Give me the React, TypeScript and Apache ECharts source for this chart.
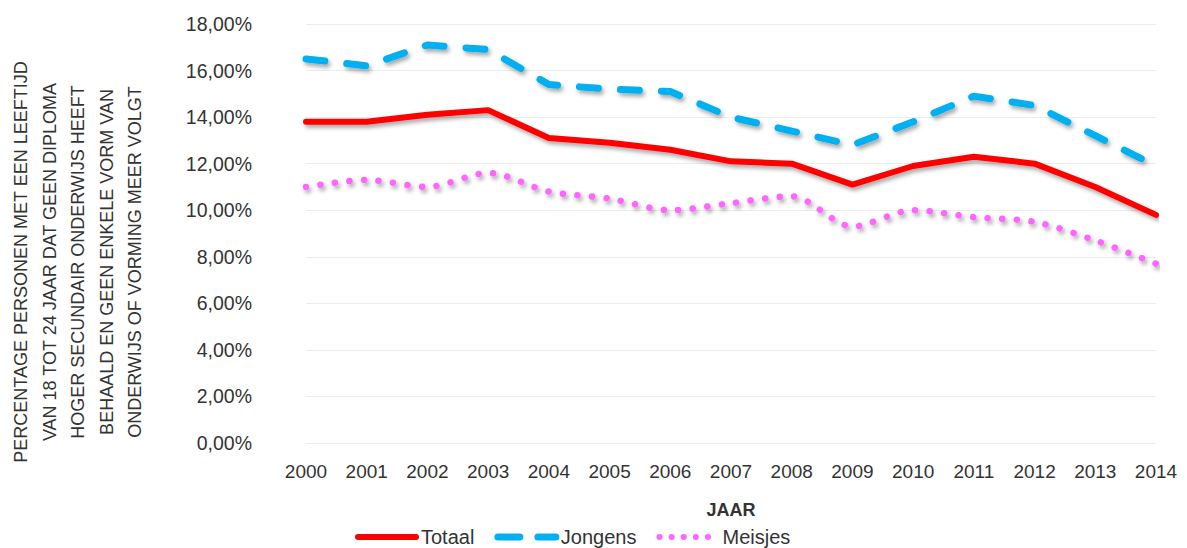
import React, { useEffect, useRef } from "react";
import * as echarts from "echarts";

const years = ["2000","2001","2002","2003","2004","2005","2006","2007","2008","2009","2010","2011","2012","2013","2014"];
const totaal = [13.8, 13.8, 14.1, 14.3, 13.1, 12.9, 12.6, 12.1, 12.0, 11.1, 11.9, 12.3, 12.0, 11.0, 9.8];
const jongens = [16.5, 16.2, 17.1, 16.9, 15.4, 15.2, 15.1, 14.0, 13.4, 12.8, 13.8, 14.9, 14.5, 13.2, 11.9];
const meisjes = [11.0, 11.3, 11.0, 11.6, 10.8, 10.5, 10.0, 10.3, 10.6, 9.3, 10.0, 9.7, 9.5, 8.7, 7.7];
const yTitleLines = [
  "PERCENTAGE PERSONEN MET EEN LEEFTIJD",
  "VAN 18 TOT 24 JAAR DAT GEEN DIPLOMA",
  "HOGER SECUNDAIR ONDERWIJS HEEFT",
  "BEHAALD EN GEEN ENKELE VORM VAN",
  "ONDERWIJS OF VORMING MEER VOLGT",
];

const FONT = "'Liberation Sans', Arial, sans-serif";
const shadow = { shadowColor: "rgba(0,0,0,0.35)", shadowBlur: 4, shadowOffsetX: 2, shadowOffsetY: 3 };

export default function App() {
  const ref = useRef<HTMLDivElement>(null);
  useEffect(() => {
    if (!ref.current) return;
    const chart = echarts.init(ref.current, undefined, { renderer: "svg" });
    chart.setOption({
      animation: false,
      backgroundColor: "#ffffff",
      grid: { left: 306, right: 31, top: 24, bottom: 105, containLabel: false },
      legend: {
        left: 350,
        top: 522,
        itemWidth: 58,
        itemHeight: 14,
        itemGap: 20,
        itemStyle: { opacity: 0 },
        textStyle: { fontFamily: FONT, fontSize: 20, color: "#333" },
        data: [
          { name: "Totaal", lineStyle: { width: 6, cap: "round", shadowBlur: 0, shadowOffsetX: 0, shadowOffsetY: 0 } },
          { name: "Jongens", lineStyle: { width: 7, type: [22, 18], cap: "round", shadowBlur: 0, shadowOffsetX: 0, shadowOffsetY: 0 } },
          { name: "Meisjes", lineStyle: { width: 6, type: [0.1, 12], cap: "round", shadowBlur: 0, shadowOffsetX: 0, shadowOffsetY: 0 } },
        ],
      },
      xAxis: {
        type: "category",
        data: years,
        boundaryGap: false,
        name: "JAAR",
        nameLocation: "middle",
        nameGap: 58,
        nameTextStyle: { fontFamily: FONT, fontSize: 18, fontWeight: "bold", color: "#333" },
        axisLine: { show: false },
        axisTick: { show: false },
        axisLabel: { fontFamily: FONT, fontSize: 19, color: "#333", margin: 19 },
        splitLine: { show: false },
      },
      yAxis: {
        type: "value",
        min: 0,
        max: 18,
        interval: 2,
        axisLine: { show: false },
        axisTick: { show: false },
        axisLabel: {
          fontFamily: FONT,
          fontSize: 19.5,
          color: "#333",
          margin: 54,
          formatter: (v: number) => v.toFixed(2).replace(".", ",") + "%",
        },
        splitLine: { lineStyle: { color: "#ececec", width: 1 } },
      },
      graphic: [
        {
          type: "text",
          x: 78,
          y: 262,
          rotation: Math.PI / 2,
          style: {
            text: yTitleLines.join("\n"),
            fontFamily: FONT,
            fontSize: 18,
            lineHeight: 28.5,
            fill: "#333",
            align: "center",
            verticalAlign: "middle",
          },
        },
      ],
      series: [
        {
          name: "Totaal",
          type: "line",
          data: totaal,
          symbol: "none",
          color: "#ff0000",
          lineStyle: { color: "#ff0000", width: 6, cap: "round", join: "round", ...shadow },
        },
        {
          name: "Jongens",
          type: "line",
          data: jongens,
          symbol: "none",
          color: "#00b0f0",
          lineStyle: { color: "#00b0f0", width: 7, type: [19, 22], cap: "round", join: "round", ...shadow },
        },
        {
          name: "Meisjes",
          type: "line",
          data: meisjes,
          symbol: "none",
          smooth: 0.3,
          color: "#ff66ff",
          lineStyle: { color: "#ff66ff", width: 6.5, type: [0.1, 14.5], cap: "round", join: "round", ...shadow },
        },
      ],
    });
    return () => chart.dispose();
  }, []);
  return (
    <div
      ref={ref}
      style={{ position: "fixed", left: 0, top: 0, width: 1187, height: 548 }}
    />
  );
}
